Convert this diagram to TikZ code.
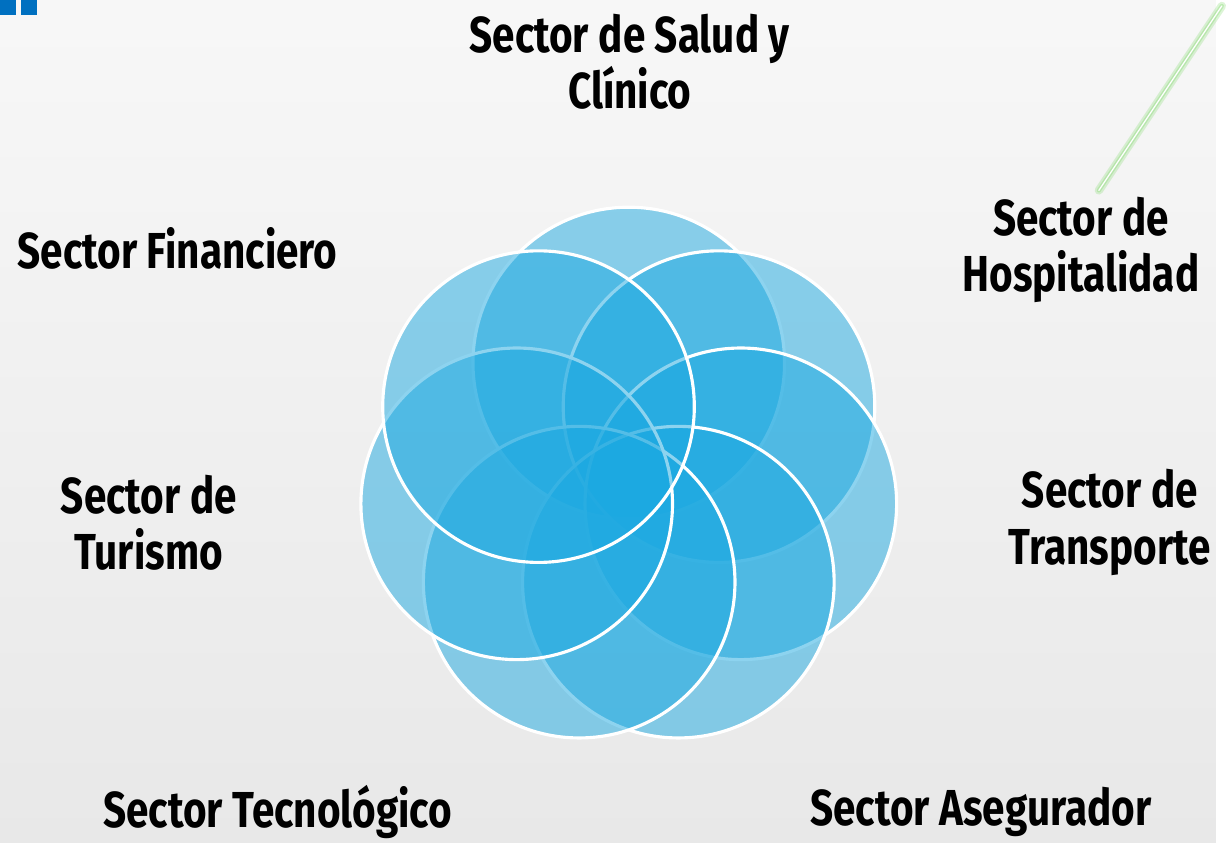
\documentclass[tikz,border=0pt]{standalone}
\usepackage{fontspec}
\usepackage{xcolor}
\usepackage{tikz}
\usetikzlibrary{calc,shapes,backgrounds,positioning}
\newfontfamily\sectorfont{Fira Sans}[FakeStretch=0.8]
\definecolor{pblue}{RGB}{28,169,225}
\definecolor{cornerblue}{RGB}{0,112,192}
\definecolor{glowgreen}{RGB}{140,220,120}

\begin{document}
\begin{tikzpicture}[x=0.01cm,y=-0.01cm]
    \tikzstyle{petal}=[circle,minimum size=3.14cm,fill=pblue,fill opacity=0.5,draw=white,line width=0.9pt]
    \tikzstyle{sector}=[align=center,text=black,font=\sectorfont\bfseries\fontsize{14.5}{16.2}\selectfont]

    % background
    \fill[top color=black!3,bottom color=black!9] (0,0) rectangle (1226,849);
    \fill[cornerblue] (0,0) rectangle (16,15);
    \fill[cornerblue] (21,0) rectangle (37,15);
    \coordinate (glowA) at (1108,192);
    \coordinate (glowB) at (1232,6);
    \draw[glowgreen,line width=2.4pt,opacity=0.3,line cap=round] (glowA) -- (glowB);
    \draw[glowgreen,line width=1.2pt,opacity=0.4,line cap=round] (glowA) -- (glowB);
    \draw[white,line width=0.35pt,line cap=round] (glowA) -- (glowB);

    % petals
    \node[petal] (top) at (634,366) {};
    \node[petal] (upright) at (725,410) {};
    \node[petal] (right) at (747,508) {};
    \node[petal] (lowright) at (684,587) {};
    \node[petal] (lowleft) at (584,587) {};
    \node[petal] (left) at (521,508) {};
    \node[petal] (upleft) at (543,410) {};

    % labels
    \node[sector] (salud) at (635,62) {Sector de Salud y\\Clínico};
    \node[sector] (hospitalidad) at (1090,252) {Sector de\\Hospitalidad};
    \node[sector] (financiero) at (179,250) {Sector Financiero};
    \node[sector] (turismo) at (150,527) {Sector de\\Turismo};
    \node[sector] (transporte) at (1119,527) {Sector de\\Transporte};
    \node[sector] (tecnologico) at (280,819) {Sector Tecnológico};
    \node[sector] (asegurador) at (989,819) {Sector Asegurador};
\end{tikzpicture}
\end{document}
